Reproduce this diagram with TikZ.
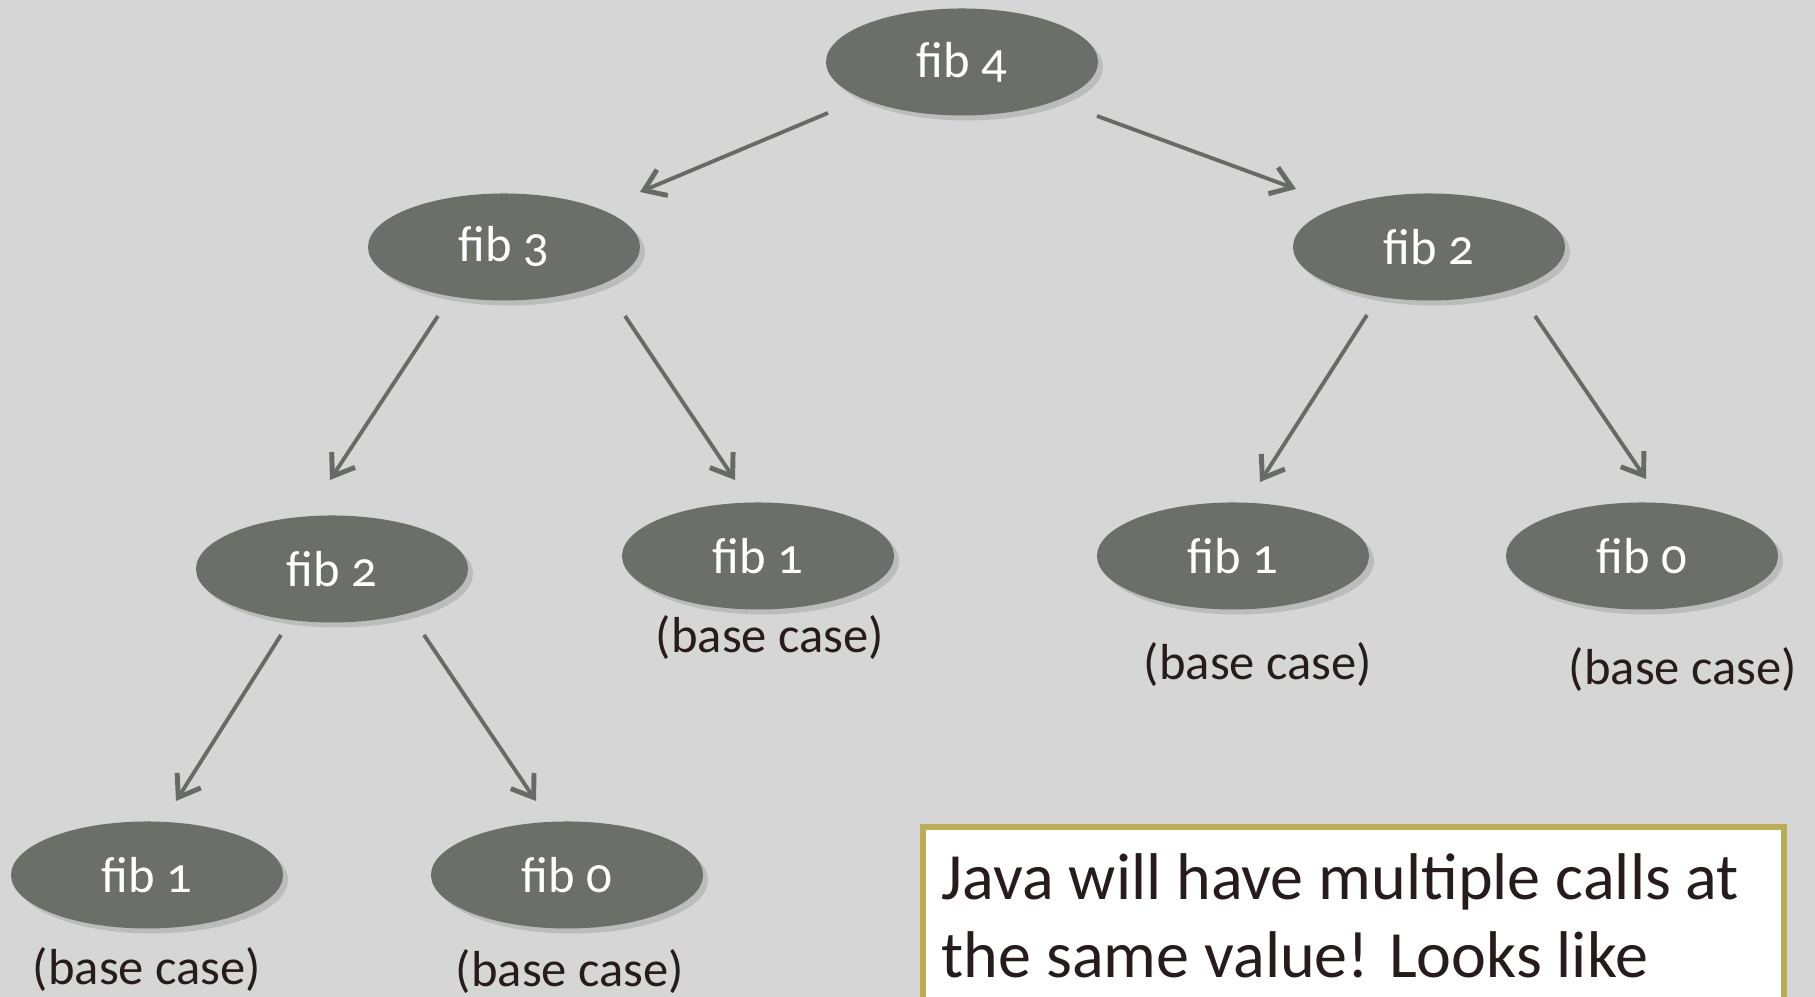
\documentclass[tikz,border=0pt]{standalone}
\usepackage{fontspec}
\setmainfont{Carlito}[Numbers=OldStyle]
\usetikzlibrary{shapes.geometric, arrows.meta, calc, shadows}

\definecolor{canvas}{RGB}{214,214,214}
\definecolor{callgray}{RGB}{108,110,105}
\definecolor{arrowgray}{RGB}{104,106,102}
\definecolor{labelink}{RGB}{38,28,28}
\definecolor{noteborder}{RGB}{188,172,88}

\tikzset{
    call/.style={ellipse, fill=callgray, text=white, minimum width=2.72cm, minimum height=1.07cm,
        inner sep=0pt, font=\fontsize{14.4}{17}\selectfont,
        drop shadow={shadow xshift=0.05cm, shadow yshift=-0.05cm, opacity=0.3}},
    callarrow/.style={draw=arrowgray, line width=1.1pt, -{Straight Barb[length=2mm, width=2.8mm, line width=1.4pt]}},
    basecase/.style={text=labelink, inner sep=0pt, font=\fontsize{14.4}{17}\selectfont},
    noteframe/.style={draw=noteborder, fill=white, line width=1.6pt},
    notetext/.style={text=labelink, inner sep=0pt, align=left, font=\fontsize{18.8}{22.2}\selectfont}
}

\begin{document}
\begin{tikzpicture}

    % Canvas
    \useasboundingbox (0,0) rectangle (18.15,9.97);
    \fill[canvas] (0,0) rectangle (18.15,9.97);
    \clip (0,0) rectangle (18.15,9.97);

    % Calls
    \node[call] (f4) at (9.62,9.35) {fib 4};
    \node[call] (f3) at (5.04,7.50) {fib 3};
    \node[call] (f2r) at (14.29,7.50) {fib 2};
    \node[call] (f2l) at (3.32,4.28) {fib 2};
    \node[call] (f1m) at (7.58,4.41) {fib 1};
    \node[call] (f1r) at (12.33,4.41) {fib 1};
    \node[call] (f0r) at (16.42,4.41) {fib 0};
    \node[call] (f1b) at (1.47,1.22) {fib 1};
    \node[call] (f0b) at (5.67,1.22) {fib 0};

    % Base cases
    \node[basecase] (b1m) at (7.70,3.59) {(base case)};
    \node[basecase] (b1r) at (12.58,3.32) {(base case)};
    \node[basecase] (b0r) at (16.83,3.27) {(base case)};
    \node[basecase] (b1b) at (1.47,0.27) {(base case)};
    \node[basecase] (b0b) at (5.70,0.25) {(base case)};

    % Recursive calls
    \draw[callarrow] ($(f4)+(-1.34,-0.51)$) -- ($(f3)+(1.36,0.55)$);
    \draw[callarrow] ($(f4)+(1.35,-0.54)$) -- ($(f2r)+(-1.33,0.58)$);
    \draw[callarrow] ($(f3)+(-0.66,-0.69)$) -- ($(f2l)+(-0.02,0.89)$);
    \draw[callarrow] ($(f3)+(1.21,-0.69)$) -- ($(f1m)+(-0.23,0.76)$);
    \draw[callarrow] ($(f2r)+(-0.62,-0.68)$) -- ($(f1r)+(0.27,0.74)$);
    \draw[callarrow] ($(f2r)+(1.06,-0.69)$) -- ($(f0r)+(0.04,0.77)$);
    \draw[callarrow] ($(f2l)+(-0.51,-0.66)$) -- ($(f1b)+(0.29,0.74)$);
    \draw[callarrow] ($(f2l)+(0.92,-0.66)$) -- ($(f0b)+(-0.31,0.74)$);

    % Note
    \draw[noteframe] (9.23,1.70) rectangle (17.84,-0.5);
    \node[notetext, anchor=base west] (note) at (9.41,0.19) {Java will have multiple calls at\\the same value! Looks like};

\end{tikzpicture}
\end{document}
